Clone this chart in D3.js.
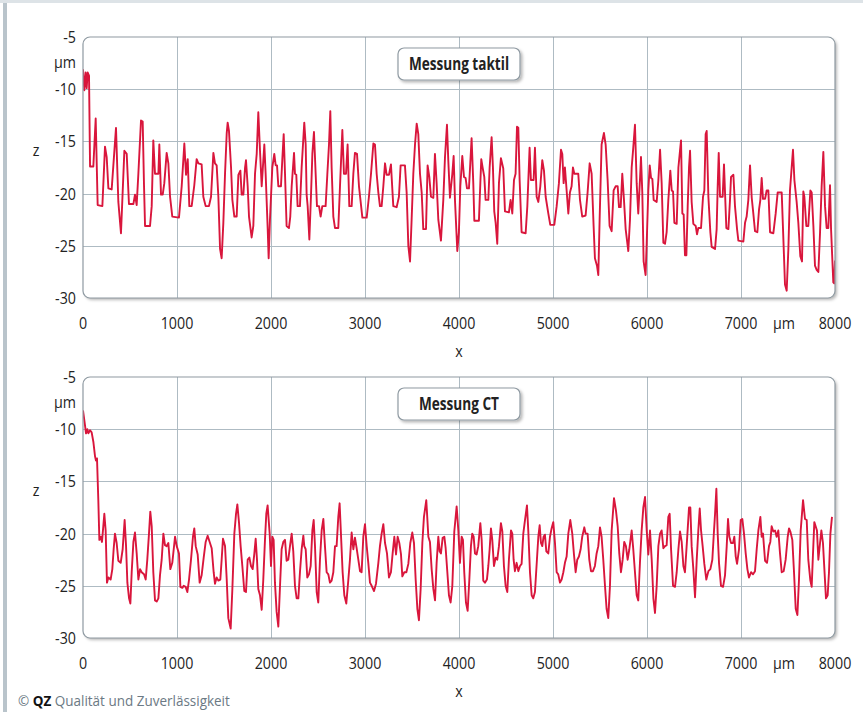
<!DOCTYPE html>
<html><head><meta charset="utf-8">
<script src="https://cdn.jsdelivr.net/npm/d3@7"></script>
<style>
body{margin:0;background:#fff}
svg{display:block}
text{font-family:"Open Sans","Noto Sans",sans-serif}
</style>
</head><body>
<svg id="c" width="863" height="712"></svg>
<script>
const xTicks=[0,1000,2000,3000,4000,5000,6000,7000,8000];
const yTicks=[-5,-10,-15,-20,-25,-30];
const titles=["Messung taktil","Messung CT"];
const unitLabel="µm", xLabel="x", zLabel="z";

const taktil=[[0,-8.1],[14,-10.1],[28,-8.4],[39,-9.9],[50,-8.4],[64,-8.7],[75,-17.4],[110,-17.4],[135,-12.8],[156,-21.1],[206,-21.2],[234,-15.5],[252,-16.5],[270,-19.5],[305,-19.6],[351,-13.7],[376,-20.8],[404,-23.8],[440,-15.9],[465,-16.2],[489,-21.0],[536,-21.0],[553,-20.1],[571,-21.1],[589,-18.1],[617,-13.0],[635,-13.1],[649,-19.2],[660,-23.1],[713,-23.1],[731,-21.2],[748,-14.9],[766,-18.1],[802,-18.1],[812,-15.3],[830,-20.1],[848,-20.1],[865,-19.0],[890,-16.1],[908,-17.1],[926,-20.3],[950,-22.2],[1021,-22.3],[1050,-19.3],[1078,-15.2],[1096,-18.2],[1114,-16.7],[1131,-21.2],[1156,-21.2],[1184,-19.2],[1209,-16.7],[1227,-17.1],[1262,-17.2],[1280,-20.3],[1305,-21.2],[1340,-21.2],[1362,-20.3],[1387,-16.1],[1404,-17.1],[1422,-17.3],[1440,-20.3],[1458,-25.3],[1475,-26.2],[1493,-22.8],[1511,-18.1],[1529,-14.2],[1539,-13.2],[1553,-14.0],[1575,-17.5],[1589,-20.6],[1610,-22.2],[1635,-22.2],[1653,-18.2],[1674,-17.8],[1688,-20.1],[1706,-20.1],[1724,-17.5],[1734,-16.8],[1752,-19.3],[1766,-22.2],[1794,-24.2],[1812,-23.1],[1830,-18.1],[1848,-16.2],[1865,-12.2],[1883,-15.9],[1901,-19.3],[1929,-15.3],[1943,-18.1],[1965,-23.4],[1975,-26.2],
[1989,-22.5],[2014,-17.5],[2035,-16.2],[2050,-17.3],[2064,-17.3],[2078,-19.3],[2106,-19.3],[2120,-16.8],[2135,-14.3],[2149,-18.1],[2166,-23.1],[2191,-23.3],[2205,-22.2],[2220,-19.3],[2245,-16.1],[2255,-18.1],[2269,-18.2],[2283,-21.2],[2308,-21.2],[2326,-17.5],[2354,-13.2],[2369,-15.3],[2379,-20.1],[2390,-21.2],[2408,-24.4],[2425,-20.3],[2440,-16.2],[2457,-14.1],[2475,-18.1],[2489,-21.2],[2511,-21.2],[2528,-22.2],[2546,-21.2],[2581,-21.2],[2599,-18.2],[2617,-15.3],[2631,-12.1],[2645,-17.5],[2663,-22.2],[2681,-23.3],[2716,-23.3],[2734,-19.3],[2759,-13.9],[2776,-18.1],[2798,-18.1],[2815,-15.3],[2833,-21.2],[2858,-21.2],[2876,-18.1],[2893,-16.1],[2915,-16.2],[2936,-19.3],[2972,-22.3],[3018,-22.3],[3042,-20.3],[3064,-18.1],[3089,-15.2],[3106,-15.3],[3124,-18.1],[3142,-19.9],[3159,-21.2],[3177,-21.2],[3195,-19.3],[3213,-17.1],[3230,-18.2],[3255,-18.2],[3276,-17.2],[3301,-21.2],[3337,-21.3],[3361,-20.3],[3379,-17.3],[3425,-17.3],[3443,-19.9],[3461,-25.0],[3479,-26.5],[3496,-22.5],[3514,-18.1],[3532,-15.3],[3550,-13.3],[3567,-14.3],[3585,-18.1],[3603,-19.9],[3620,-23.4],[3649,-23.4],[3666,-17.3],[3684,-18.4],[3702,-20.3],[3727,-20.4],[3744,-16.2],[3762,-19.0],[3780,-22.5],[3808,-24.5],[3833,-20.6],[3851,-16.5],[3872,-13.4],[3886,-16.8],[3904,-20.4],[3929,-18.1],[3943,-16.4],[3957,-20.6],[3982,-25.5],[3999,-23.7],
[4014,-19.3],[4035,-16.4],[4053,-18.4],[4070,-18.5],[4085,-19.5],[4106,-19.5],[4120,-17.1],[4134,-14.7],[4152,-19.0],[4163,-22.6],[4212,-22.6],[4227,-19.0],[4237,-16.7],[4251,-17.5],[4269,-18.4],[4283,-20.6],[4312,-20.6],[4326,-17.5],[4347,-14.6],[4361,-17.5],[4375,-21.7],[4390,-22.8],[4407,-24.8],[4425,-19.0],[4446,-16.6],[4471,-17.6],[4489,-21.7],[4531,-21.8],[4549,-20.6],[4567,-21.9],[4585,-18.7],[4602,-18.1],[4617,-13.6],[4631,-13.7],[4645,-18.7],[4666,-23.7],[4709,-23.8],[4727,-21.2],[4751,-15.6],[4765,-18.7],[4794,-18.7],[4808,-15.6],[4826,-20.3],[4844,-20.8],[4865,-19.3],[4886,-16.8],[4904,-17.8],[4922,-20.3],[4950,-21.9],[4971,-23.0],[5014,-23.0],[5039,-21.2],[5063,-19.0],[5085,-15.8],[5099,-16.2],[5113,-19.0],[5127,-17.5],[5145,-19.7],[5163,-21.9],[5180,-19.9],[5198,-19.3],[5212,-17.5],[5227,-18.1],[5269,-18.1],[5287,-20.6],[5311,-22.2],[5347,-22.1],[5368,-19.9],[5390,-17.1],[5411,-18.1],[5432,-23.1],[5446,-26.2],[5468,-26.9],[5482,-27.8],[5496,-22.5],[5517,-15.3],[5542,-14.2],[5560,-15.3],[5581,-18.7],[5602,-23.1],[5624,-23.6],[5645,-19.7],[5666,-19.3],[5688,-19.3],[5702,-21.3],[5720,-21.3],[5737,-18.1],[5755,-20.6],[5773,-23.4],[5801,-25.5],[5819,-22.5],[5837,-17.5],[5854,-15.6],[5872,-13.4],[5890,-19.0],[5907,-21.9],[5925,-18.7],[5936,-16.5],[5950,-19.9],[5964,-26.5],[5985,-27.8],
[5997,-24.7],[6014,-19.7],[6029,-17.3],[6043,-18.5],[6057,-18.6],[6071,-20.6],[6103,-20.8],[6121,-18.7],[6139,-15.8],[6156,-19.0],[6174,-24.7],[6192,-24.8],[6209,-23.7],[6227,-20.6],[6248,-17.8],[6263,-19.7],[6277,-19.8],[6291,-22.8],[6316,-22.9],[6334,-17.5],[6351,-15.9],[6362,-14.9],[6376,-21.9],[6390,-22.0],[6404,-25.9],[6419,-25.9],[6433,-21.2],[6447,-17.5],[6458,-15.9],[6475,-20.8],[6493,-22.9],[6518,-23.1],[6532,-23.9],[6546,-23.3],[6575,-23.3],[6596,-20.3],[6610,-19.7],[6624,-14.3],[6635,-14.0],[6653,-20.3],[6674,-23.7],[6688,-25.1],[6724,-25.3],[6741,-23.4],[6752,-19.3],[6763,-16.1],[6777,-20.3],[6805,-20.3],[6819,-17.2],[6830,-19.9],[6844,-23.3],[6866,-23.4],[6883,-20.6],[6894,-18.4],[6919,-18.2],[6936,-21.2],[6958,-23.4],[6972,-24.5],[7025,-24.6],[7043,-22.8],[7060,-22.2],[7078,-20.6],[7096,-17.3],[7114,-20.4],[7131,-21.9],[7149,-23.6],[7174,-23.7],[7192,-21.5],[7206,-20.6],[7220,-18.5],[7234,-20.5],[7256,-20.5],[7273,-19.7],[7291,-19.7],[7309,-23.7],[7344,-23.8],[7369,-21.9],[7390,-19.9],[7433,-19.9],[7451,-24.4],[7468,-28.7],[7486,-29.3],[7504,-25.3],[7521,-19.7],[7539,-17.5],[7553,-15.8],[7568,-18.7],[7592,-20.8],[7610,-22.8],[7631,-26.0],[7649,-26.5],[7663,-19.8],[7674,-20.3],[7695,-23.1],[7716,-23.1],[7738,-19.7],[7752,-19.9],[7770,-23.1],[7787,-26.9],[7805,-27.3],[7823,-27.5],[7841,-23.7],[7858,-19.3],[7876,-16.0],[7894,-21.2],[7911,-23.3],[7929,-23.3],[7947,-19.2],[7958,-23.4],[7982,-28.5],[7992,-28.6],[8000,-26.4]];

const ct=[[0,-8.2],[21,-9.6],[32,-10.4],[46,-10.0],[57,-10.4],[75,-10.1],[92,-10.3],[110,-11.2],[128,-12.6],[138,-13.0],[149,-12.8],[163,-16.8],[174,-20.6],[188,-20.3],[202,-20.8],[216,-19.3],[227,-18.1],[241,-19.7],[255,-24.7],[270,-24.2],[294,-24.4],[312,-23.4],[326,-21.5],[340,-20.0],[358,-20.9],[376,-22.6],[401,-22.8],[422,-21.5],[443,-18.7],[458,-21.2],[472,-24.7],[490,-26.2],[504,-26.7],[518,-23.7],[536,-20.8],[553,-19.9],[571,-21.9],[589,-24.4],[607,-23.4],[624,-23.7],[649,-23.9],[667,-24.4],[684,-22.5],[702,-20.0],[716,-17.9],[731,-19.3],[748,-23.7],[766,-26.4],[784,-26.5],[802,-26.2],[819,-24.0],[837,-22.5],[855,-20.0],[872,-21.1],[890,-21.2],[908,-20.9],[929,-23.4],[950,-22.8],[979,-20.3],[997,-21.2],[1021,-21.9],[1036,-25.1],[1057,-25.2],[1071,-25.0],[1092,-25.1],[1110,-25.6],[1128,-24.4],[1149,-22.5],[1170,-20.3],[1184,-19.5],[1199,-21.2],[1220,-22.0],[1241,-24.7],[1262,-24.0],[1284,-22.3],[1305,-20.8],[1326,-20.2],[1351,-20.9],[1369,-21.4],[1390,-23.7],[1404,-24.8],[1422,-24.2],[1440,-24.5],[1461,-24.4],[1475,-22.5],[1489,-20.5],[1511,-21.2],[1529,-24.4],[1546,-28.1],[1571,-29.1],[1589,-25.3],[1610,-20.0],[1628,-18.1],[1642,-17.2],[1660,-19.0],[1677,-21.2],[1695,-23.1],[1716,-25.5],[1734,-25.6],[1752,-22.5],[1770,-22.3],[1787,-23.1],[1805,-23.4],[1823,-21.9],[1837,-20.5],[1851,-22.5],[1865,-25.3],[1883,-25.9],[1901,-27.3],[1918,-24.4],[1936,-20.6],[1950,-18.1],[1964,-17.3],
[1986,-20.0],[2000,-23.1],[2014,-20.3],[2028,-20.6],[2042,-24.7],[2060,-27.5],[2078,-28.9],[2096,-25.0],[2113,-21.5],[2131,-20.8],[2149,-20.6],[2166,-22.6],[2184,-22.5],[2202,-21.2],[2220,-20.0],[2237,-21.7],[2255,-25.0],[2273,-26.2],[2291,-26.2],[2308,-23.7],[2326,-21.5],[2344,-20.2],[2354,-21.2],[2369,-21.5],[2386,-24.2],[2404,-23.9],[2422,-23.1],[2440,-19.7],[2454,-18.7],[2468,-21.2],[2486,-25.6],[2503,-26.6],[2521,-22.5],[2539,-19.7],[2557,-18.6],[2574,-21.2],[2592,-23.7],[2610,-23.9],[2627,-24.7],[2645,-24.5],[2663,-23.7],[2681,-21.2],[2698,-21.2],[2716,-18.4],[2730,-17.1],[2744,-20.0],[2762,-23.7],[2780,-25.9],[2801,-26.7],[2823,-24.4],[2840,-22.5],[2858,-19.9],[2876,-21.5],[2893,-20.4],[2911,-21.4],[2929,-22.5],[2947,-23.6],[2964,-23.7],[2982,-20.3],[3000,-19.1],[3018,-21.2],[3035,-22.8],[3053,-24.7],[3071,-25.0],[3096,-25.5],[3117,-24.8],[3142,-22.8],[3159,-21.2],[3177,-20.0],[3195,-19.1],[3213,-20.9],[3234,-21.9],[3255,-24.2],[3276,-23.7],[3294,-21.9],[3312,-20.3],[3330,-22.0],[3347,-20.3],[3365,-20.9],[3383,-22.0],[3397,-24.1],[3418,-23.7],[3440,-23.7],[3461,-22.9],[3482,-20.9],[3503,-19.9],[3521,-20.9],[3539,-24.4],[3557,-27.2],[3574,-28.3],[3592,-25.3],[3610,-20.9],[3627,-18.4],[3652,-16.8],[3674,-20.3],[3691,-20.8],[3709,-23.4],[3727,-25.3],[3745,-26.4],[3762,-22.8],[3780,-20.3],[3794,-21.7],[3808,-21.9],[3826,-20.4],[3844,-20.3],[3858,-21.4],[3876,-23.7],[3893,-25.9],[3911,-26.6],[3929,-25.0],[3950,-19.8],[3975,-17.4],
[3993,-19.7],[4010,-22.8],[4028,-20.3],[4042,-20.6],[4056,-23.7],[4074,-26.6],[4092,-27.4],[4110,-24.4],[4127,-21.2],[4141,-20.0],[4156,-20.3],[4170,-21.9],[4187,-22.0],[4205,-21.2],[4227,-19.0],[4241,-20.6],[4258,-24.5],[4276,-24.7],[4297,-24.4],[4312,-23.1],[4326,-21.5],[4340,-19.5],[4354,-20.6],[4372,-23.1],[4390,-22.3],[4407,-22.5],[4425,-21.2],[4446,-19.0],[4461,-19.8],[4478,-23.1],[4496,-25.0],[4514,-25.6],[4531,-22.5],[4553,-19.7],[4567,-20.0],[4581,-22.5],[4595,-23.6],[4613,-22.8],[4631,-23.6],[4649,-23.1],[4666,-22.9],[4684,-20.0],[4702,-18.7],[4723,-17.3],[4737,-19.7],[4755,-23.7],[4773,-25.9],[4790,-26.2],[4808,-25.6],[4829,-22.5],[4844,-20.3],[4858,-19.2],[4872,-20.9],[4886,-21.2],[4900,-20.3],[4914,-20.1],[4929,-21.7],[4950,-21.9],[4968,-20.3],[4985,-19.5],[5003,-18.9],[5021,-20.9],[5039,-23.7],[5056,-23.9],[5074,-24.7],[5092,-24.4],[5110,-23.7],[5127,-22.8],[5145,-22.2],[5163,-20.0],[5184,-18.7],[5205,-20.0],[5223,-22.0],[5241,-23.7],[5258,-22.5],[5276,-22.2],[5294,-21.5],[5311,-20.3],[5333,-19.4],[5347,-20.0],[5368,-20.0],[5386,-22.5],[5404,-23.6],[5425,-23.6],[5446,-23.1],[5464,-21.9],[5482,-21.2],[5500,-19.4],[5517,-20.3],[5535,-22.5],[5553,-25.0],[5570,-27.2],[5588,-28.1],[5606,-25.0],[5624,-19.7],[5649,-16.6],[5670,-17.8],[5688,-19.3],[5705,-21.9],[5723,-23.7],[5741,-22.5],[5758,-20.8],[5776,-21.2],[5794,-22.5],[5812,-21.5],[5837,-19.7],[5854,-21.5],[5872,-23.7],[5890,-25.9],[5907,-26.4],[5925,-22.8],[5943,-19.7],[5961,-17.5],[5979,-16.5],
[5997,-19.7],[6014,-22.0],[6032,-19.7],[6050,-22.5],[6068,-26.2],[6085,-27.6],[6103,-25.0],[6121,-21.2],[6139,-20.0],[6156,-19.7],[6174,-21.4],[6192,-21.2],[6209,-21.1],[6227,-18.4],[6241,-18.1],[6256,-21.5],[6277,-25.0],[6298,-25.1],[6316,-23.7],[6334,-21.5],[6351,-19.8],[6369,-20.8],[6387,-23.1],[6404,-23.7],[6426,-20.6],[6447,-17.5],[6461,-17.5],[6475,-21.2],[6493,-23.4],[6511,-26.1],[6529,-22.5],[6546,-19.7],[6561,-17.6],[6575,-19.7],[6592,-21.2],[6610,-22.9],[6631,-24.4],[6653,-23.6],[6674,-23.4],[6695,-22.5],[6709,-20.3],[6724,-18.1],[6738,-15.7],[6752,-20.0],[6766,-22.8],[6787,-25.0],[6809,-25.1],[6830,-24.0],[6848,-21.2],[6862,-18.6],[6876,-20.3],[6894,-20.9],[6915,-20.9],[6929,-20.3],[6944,-22.2],[6958,-22.9],[6979,-21.5],[6997,-18.7],[7014,-18.6],[7032,-20.0],[7050,-21.9],[7068,-23.4],[7085,-24.2],[7107,-23.7],[7128,-23.9],[7149,-23.6],[7167,-21.5],[7185,-19.7],[7206,-18.4],[7220,-20.3],[7234,-20.0],[7256,-22.6],[7277,-22.8],[7298,-21.2],[7312,-20.8],[7326,-19.3],[7344,-19.8],[7362,-19.7],[7379,-20.3],[7397,-19.7],[7415,-21.9],[7433,-23.7],[7454,-23.6],[7475,-22.5],[7497,-20.3],[7511,-19.5],[7525,-19.8],[7546,-20.6],[7564,-23.7],[7582,-27.2],[7600,-27.8],[7617,-24.4],[7635,-19.7],[7660,-16.8],[7681,-18.6],[7699,-18.7],[7716,-22.5],[7738,-24.5],[7752,-25.1],[7766,-21.9],[7780,-18.9],[7794,-19.3],[7808,-19.7],[7823,-22.5],[7841,-20.9],[7855,-19.7],[7872,-20.9],[7887,-23.4],[7904,-26.2],[7922,-25.9],[7936,-23.7],[7951,-20.0],[7968,-18.4]];

const series=[taktil,ct];

const svg=d3.select("#c");
const defs=svg.append("defs");
const f=defs.append("filter").attr("id","sh").attr("x","-5%").attr("y","-5%").attr("width","115%").attr("height","120%");
f.append("feDropShadow").attr("dx",2).attr("dy",2).attr("stdDeviation",1.5).attr("flood-color","#000").attr("flood-opacity",0.28);

// condensed text helper
const SX=0.84;
function txt(g,x,y,s,opt={}){
  return g.append("text")
    .attr("transform",`translate(${x},${y}) scale(${opt.sx||SX},1)`)
    .attr("text-anchor",opt.anchor||"middle")
    .attr("font-size",opt.size||17)
    .attr("font-weight",opt.weight||"normal")
    .attr("fill",opt.fill||"#222")
    .text(s);
}

// outer frame
svg.append("rect").attr("x",0).attr("y",0).attr("width",863).attr("height",3).attr("fill","#dde3e7");
svg.append("rect").attr("x",3).attr("y",3).attr("width",4).attr("height",709).attr("fill","#b9c4cb");

const X0=83, X1=835;
const panels=[{top:37,bottom:298},{top:377,bottom:638}];

panels.forEach((p,i)=>{
  const x=d3.scaleLinear().domain([0,8000]).range([X0,X1]);
  const y=d3.scaleLinear().domain([-5,-30]).range([p.top,p.bottom]);
  const g=svg.append("g");
  const clipId="clip"+i;
  defs.append("clipPath").attr("id",clipId).append("rect")
    .attr("x",X0).attr("y",p.top).attr("width",X1-X0).attr("height",p.bottom-p.top).attr("rx",7);
  g.append("rect").attr("x",X0).attr("y",p.top).attr("width",X1-X0).attr("height",p.bottom-p.top)
    .attr("rx",7).attr("fill","#fff").attr("filter","url(#sh)");
  const grid=g.append("g").attr("clip-path",`url(#${clipId})`);
  grid.selectAll("line.v").data(xTicks.slice(1,-1)).enter().append("line")
    .attr("x1",d=>x(d)+0.5).attr("x2",d=>x(d)+0.5).attr("y1",p.top).attr("y2",p.bottom)
    .attr("stroke","#aebbc3").attr("stroke-width",1);
  grid.selectAll("line.h").data(yTicks.slice(1,-1)).enter().append("line")
    .attr("y1",d=>Math.round(y(d))+0.5).attr("y2",d=>Math.round(y(d))+0.5).attr("x1",X0).attr("x2",X1)
    .attr("stroke","#aebbc3").attr("stroke-width",1);
  const line=d3.line().x(d=>x(d[0])).y(d=>y(d[1]));
  grid.append("path").datum(series[i]).attr("d",line).attr("fill","none")
    .attr("stroke","#d9163c").attr("stroke-width",1.9).attr("stroke-linejoin","round");
  g.append("rect").attr("x",X0).attr("y",p.top).attr("width",X1-X0).attr("height",p.bottom-p.top)
    .attr("rx",7).attr("fill","none").attr("stroke","#8f9aa2").attr("stroke-width",1.2);

  // y ticks
  yTicks.forEach(d=>txt(g,76,y(d)+6,d,{anchor:"end"}));
  txt(g,76,p.top+31,unitLabel,{anchor:"end"});
  txt(g,36,(p.top+p.bottom)/2-12,zLabel);
  // x ticks
  xTicks.forEach(d=>txt(g,x(d),p.bottom+31,d));
  txt(g,784,p.bottom+31,unitLabel);
  txt(g,x(4000),p.bottom+59,xLabel);

  // legend box
  const bx=398,bw=122,by=p.top+11,bh=32;
  g.append("rect").attr("x",bx).attr("y",by).attr("width",bw).attr("height",bh).attr("rx",6)
    .attr("fill","#fff").attr("stroke","#8f9aa2").attr("stroke-width",1.2).attr("filter","url(#sh)");
  txt(g,bx+bw/2,by+22,titles[i],{weight:"bold",size:17,sx:0.8});
});

// copyright
const c=svg.append("text").attr("transform","translate(18,706) scale(0.9,1)").attr("font-size",15);
c.append("tspan").attr("fill","#6b7984").text("© ");
c.append("tspan").attr("fill","#111").attr("font-weight","bold").text("QZ");
c.append("tspan").attr("fill","#6b7984").text("  Qualität und Zuverlässigkeit");
</script>
</body></html>
